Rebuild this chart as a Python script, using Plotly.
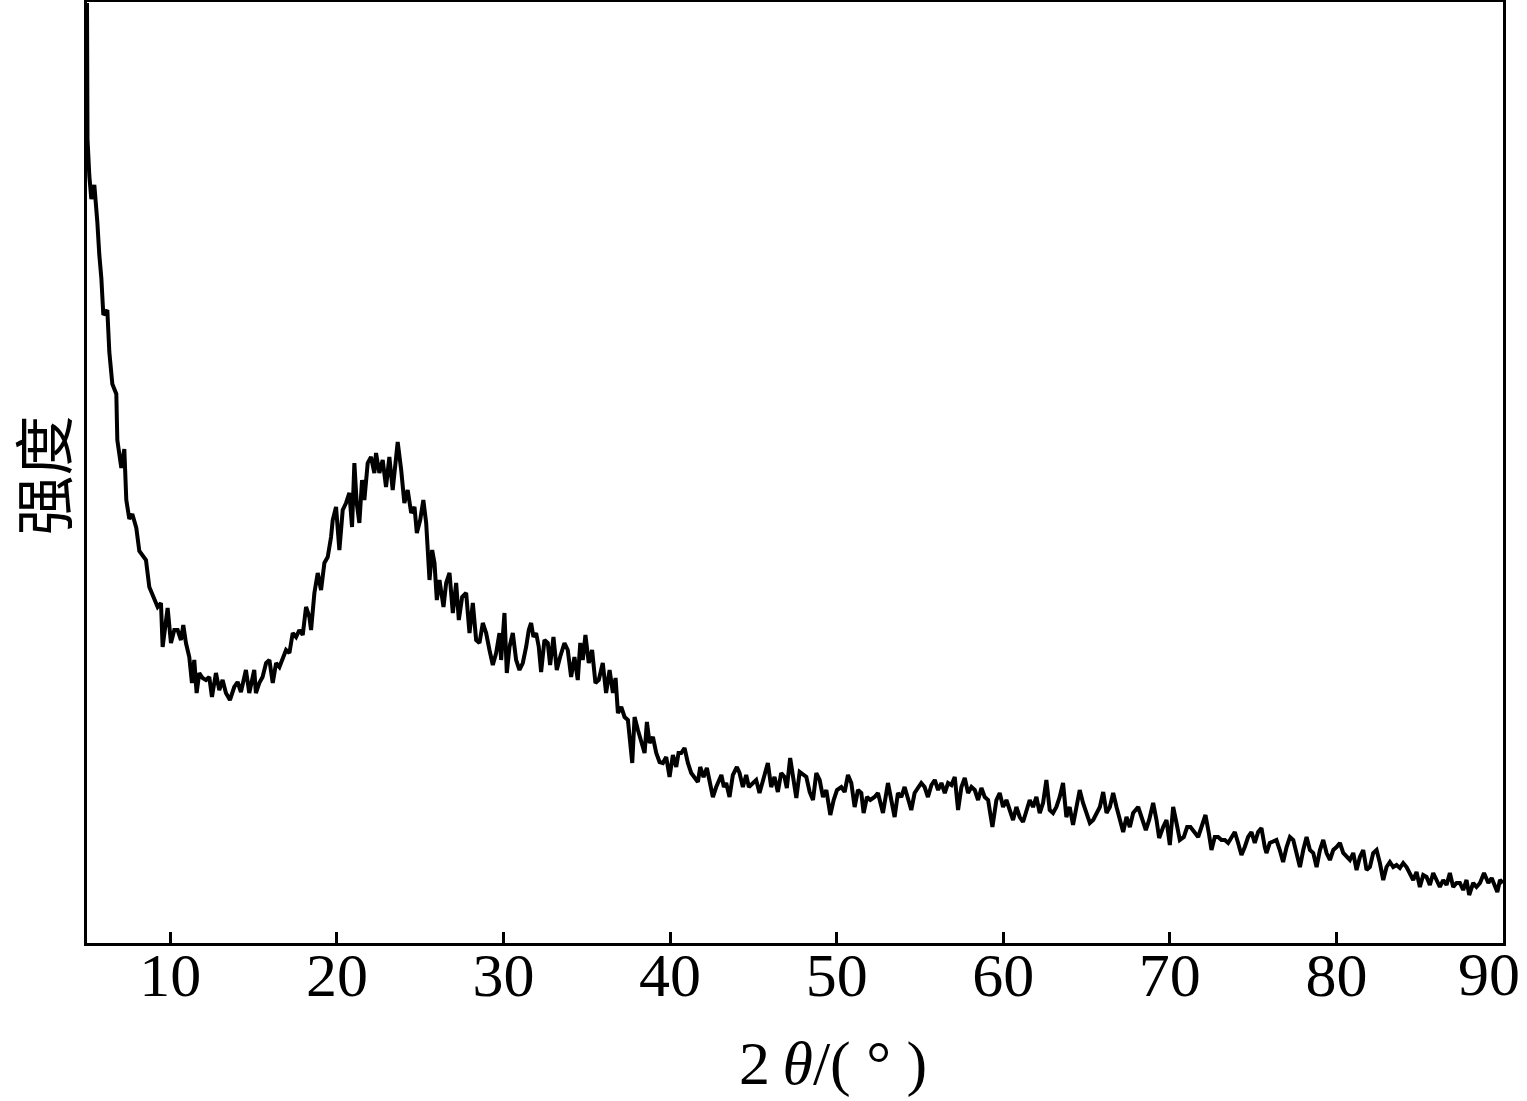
import plotly.graph_objects as go

# XRD pattern (intensity in arbitrary units)
two_theta = [
    5.00, 5.02, 5.03, 5.14, 5.26, 5.44, 5.56, 5.62, 5.74, 5.86, 5.98, 6.22, 6.34, 6.52, 6.76, 6.82,
    7.06, 7.24, 7.36, 7.54, 7.72, 7.96, 8.14, 8.54, 8.74, 9.04, 9.24, 9.44, 9.54, 9.84, 10.04, 10.24,
    10.44, 10.64, 10.78, 10.94, 11.14, 11.30, 11.44, 11.58, 11.74, 11.94, 12.14, 12.34, 12.50, 12.74,
    12.94, 13.14, 13.34, 13.58, 13.84, 14.04, 14.24, 14.54, 14.74, 15.04, 15.14, 15.34, 15.54, 15.75,
    15.95, 16.15, 16.35, 16.55, 16.75, 16.95, 17.15, 17.35, 17.55, 17.75, 17.95, 18.15, 18.35, 18.45,
    18.65, 18.85, 19.05, 19.25, 19.45, 19.65, 19.75, 19.95, 20.15, 20.35, 20.55, 20.75, 20.91, 21.05,
    21.19, 21.35, 21.51, 21.65, 21.85, 22.05, 22.25, 22.35, 22.55, 22.75, 22.95, 23.15, 23.35, 23.55,
    23.65, 23.86, 24.05, 24.25, 24.46, 24.66, 24.80, 25.00, 25.19, 25.36, 25.56, 25.72, 25.86, 26.00,
    26.16, 26.40, 26.56, 26.76, 26.96, 27.16, 27.32, 27.52, 27.76, 27.96, 28.16, 28.36, 28.56, 28.76,
    28.96, 29.16, 29.36, 29.56, 29.76, 29.86, 30.06, 30.20, 30.36, 30.56, 30.76, 30.96, 31.16, 31.36,
    31.52, 31.66, 31.80, 31.96, 32.12, 32.26, 32.46, 32.66, 32.80, 33.00, 33.20, 33.40, 33.66, 33.86,
    34.06, 34.26, 34.46, 34.61, 34.76, 34.92, 35.12, 35.32, 35.52, 35.72, 35.96, 36.16, 36.37, 36.57,
    36.73, 36.87, 37.07, 37.27, 37.47, 37.73, 37.87, 38.07, 38.27, 38.47, 38.61, 38.77, 38.97, 39.17,
    39.37, 39.57, 39.77, 39.97, 40.17, 40.37, 40.51, 40.67, 40.87, 41.07, 41.27, 41.47, 41.67, 41.81,
    42.01, 42.21, 42.37, 42.57, 42.77, 42.93, 43.08, 43.23, 43.37, 43.57, 43.77, 44.01, 44.17, 44.37,
    44.57, 44.73, 44.97, 45.17, 45.37, 45.61, 45.87, 46.07, 46.27, 46.47, 46.67, 46.87, 47.01, 47.21,
    47.42, 47.58, 47.78, 47.98, 48.18, 48.38, 48.58, 48.78, 48.98, 49.18, 49.38, 49.62, 49.82, 50.02,
    50.28, 50.48, 50.68, 50.88, 51.08, 51.28, 51.48, 51.62, 51.82, 52.02, 52.28, 52.48, 52.78, 53.08,
    53.28, 53.48, 53.68, 53.88, 54.08, 54.28, 54.48, 54.68, 54.88, 55.08, 55.28, 55.48, 55.69, 55.89,
    56.09, 56.29, 56.49, 56.69, 56.89, 57.09, 57.29, 57.49, 57.69, 57.89, 58.09, 58.29, 58.49, 58.69,
    58.89, 59.09, 59.35, 59.59, 59.79, 59.99, 60.19, 60.39, 60.59, 60.79, 60.99, 61.19, 61.39, 61.59,
    61.79, 61.99, 62.19, 62.39, 62.59, 62.79, 62.99, 63.19, 63.39, 63.59, 63.79, 63.99, 64.19, 64.39,
    64.59, 64.79, 64.99, 65.20, 65.40, 65.60, 65.80, 66.00, 66.20, 66.40, 66.60, 66.80, 67.00, 67.20,
    67.40, 67.60, 67.80, 68.10, 68.30, 68.56, 68.76, 69.00, 69.20, 69.36, 69.60, 69.80, 70.00, 70.20,
    70.40, 70.60, 70.84, 71.04, 71.24, 71.44, 71.70, 71.90, 72.14, 72.34, 72.50, 72.70, 72.90, 73.10,
    73.30, 73.50, 73.70, 73.90, 74.10, 74.30, 74.50, 74.70, 74.90, 75.10, 75.30, 75.50, 75.70, 75.80,
    76.00, 76.20, 76.40, 76.60, 76.80, 77.01, 77.21, 77.41, 77.61, 77.81, 78.01, 78.21, 78.41, 78.61,
    78.81, 79.01, 79.21, 79.41, 79.61, 79.81, 80.01, 80.21, 80.41, 80.61, 80.81, 81.01, 81.21, 81.41,
    81.61, 81.81, 82.01, 82.21, 82.41, 82.61, 82.81, 83.01, 83.21, 83.41, 83.61, 83.81, 84.01, 84.21,
    84.41, 84.61, 84.81, 85.01, 85.21, 85.41, 85.61, 85.81, 86.01, 86.21, 86.41, 86.61, 86.81, 87.01,
    87.21, 87.41, 87.61, 87.81, 87.97, 88.21, 88.41, 88.62, 88.86, 89.12, 89.32, 89.52, 89.66, 89.82,
    90.00,
]

intensity = [
    940, 895, 804, 767, 744, 758, 739, 721, 688, 665, 628, 633, 591, 559, 549, 503,
    475, 494, 443, 424, 429, 415, 392, 383, 356, 343, 336, 340, 296, 335, 300, 313,
    313, 303, 318, 300, 286, 260, 283, 250, 270, 265, 263, 266, 246, 270,
    253, 263, 250, 243, 256, 261, 251, 273, 250, 273, 250, 260, 266, 280,
    283, 260, 280, 276, 286, 293, 290, 310, 306, 313, 308, 336, 326, 313,
    350, 370, 353, 380, 386, 406, 423, 436, 393, 433, 440, 450, 416, 480,
    440, 420, 463, 443, 480, 486, 470, 490, 470, 483, 456, 486, 453, 480,
    501, 473, 440, 453, 430, 436, 410, 423, 443, 420, 363, 393, 380, 343,
    363, 336, 360, 370, 330, 360, 323, 346, 350, 310, 340, 303, 300, 320,
    310, 293, 278, 290, 310, 283, 330, 270, 296, 310, 283, 273, 280, 296,
    313, 320, 306, 310, 296, 271, 303, 300, 278, 306, 273, 286, 300, 293,
    266, 286, 263, 300, 283, 308, 280, 293, 260, 263, 280, 250, 273, 250,
    265, 230, 236, 226, 223, 180, 226, 213, 203, 190, 221, 200, 206, 190,
    181, 180, 186, 166, 188, 176, 190, 190, 195, 180, 170, 166, 161, 176,
    166, 175, 160, 146, 156, 163, 168, 156, 160, 146, 168, 176, 170, 156,
    168, 156, 160, 163, 150, 166, 180, 156, 166, 151, 170, 166, 155, 185,
    163, 145, 171, 168, 166, 151, 143, 170, 163, 146, 153, 128, 143, 153,
    156, 151, 168, 160, 136, 153, 150, 130, 146, 143, 146, 150, 130, 160,
    143, 126, 150, 146, 156, 143, 133, 150, 156, 160, 156, 146, 158, 163,
    153, 160, 150, 160, 158, 166, 133, 156, 165, 150, 156, 153, 143, 155,
    146, 143, 116, 143, 150, 136, 143, 133, 123, 136, 126, 121, 133, 143,
    136, 146, 130, 140, 163, 133, 130, 136, 146, 160, 126, 136, 118, 136,
    153, 140, 130, 120, 123, 130, 136, 151, 130, 136, 150, 136, 123, 111,
    126, 116, 130, 136, 126, 113, 123, 140, 123, 105, 116, 123, 98, 136,
    120, 103, 106, 116, 116, 111, 106, 116, 128, 110, 93, 106, 106, 103,
    103, 100, 106, 111, 100, 88, 96, 106, 111, 100, 111, 115, 96, 90,
    100, 101, 103, 93, 81, 96, 106, 103, 90, 76, 93, 106, 93, 90,
    76, 93, 103, 90, 83, 93, 96, 100, 90, 86, 83, 90, 73, 86,
    93, 73, 76, 90, 93, 80, 63, 76, 81, 76, 78, 75, 80, 76,
    70, 63, 71, 56, 68, 66, 58, 70, 63, 56, 63, 58, 70, 56,
    60, 60, 53, 63, 48, 60, 56, 60, 70, 60, 65, 55, 51, 63,
    60,
]

x_ticks = [10, 20, 30, 40, 50, 60, 70, 80, 90]
x_ticktext = ['10', '20', '30', '40', '50', '60', '70', '80', '']  # 90 drawn as annotation (sits at the edge)

serif = 'Liberation Serif'

fig = go.Figure()
fig.add_trace(go.Scatter(
    x=two_theta, y=intensity, mode='lines',
    line=dict(color='black', width=4),
    showlegend=False,
))

fig.update_layout(
    width=1527, height=1101,
    margin=dict(l=87, r=24, t=2, b=158),
    plot_bgcolor='white', paper_bgcolor='white',
    font=dict(family=serif, color='black', size=64),
)
fig.update_xaxes(
    range=[5, 90], tickvals=x_ticks, ticktext=x_ticktext,
    ticks='inside', ticklen=11, tickwidth=3, tickcolor='black',
    ticklabelstandoff=-24,
    showline=True, linewidth=3, linecolor='black', mirror=True,
    showgrid=False, zeroline=False, automargin=False,
    tickfont=dict(family=serif, size=62),
)
fig.update_yaxes(
    range=[0, 941], showticklabels=False, ticks='',
    showline=True, linewidth=3, linecolor='black', mirror=True,
    showgrid=False, zeroline=False, automargin=False,
)

# last tick label, pulled in from the right edge as in the original
fig.add_annotation(
    x=90, y=0, xref='x', yref='y', text='90', showarrow=False,
    xanchor='right', yanchor='top', xshift=19, yshift=5,
    font=dict(family=serif, size=62),
)
# x axis title
fig.add_annotation(
    x=0.527, y=-0.128, xref='paper', yref='paper',
    text='2\u2009<i>θ</i>/( ° )', showarrow=False,
    xanchor='center', yanchor='middle',
    font=dict(family=serif, size=62),
)
# y axis title
fig.add_annotation(
    x=-0.033, y=0.497, xref='paper', yref='paper',
    text='强度', showarrow=False, textangle=-90,
    xanchor='center', yanchor='middle',
    font=dict(family='Noto Sans CJK SC', size=60),
)

fig.write_html("out.html", config={'displayModeBar': False},
               post_script="document.body.style.margin='0';")
